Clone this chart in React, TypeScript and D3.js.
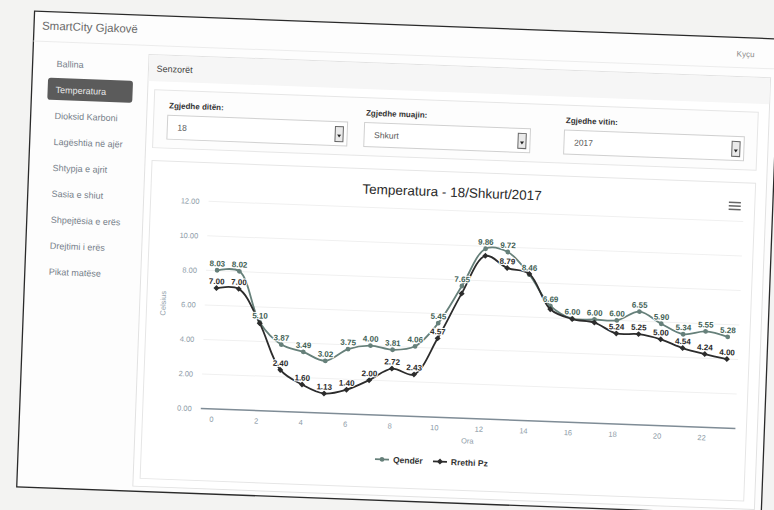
import * as d3 from 'd3';

// hours of the day (x) and temperatures for the two stations
const hours = [0, 1, 2, 3, 4, 5, 6, 7, 8, 9, 10, 11, 12, 13, 14, 15, 16, 17, 18, 19, 20, 21, 22, 23];
const qender = [8.03, 8.02, 5.10, 3.87, 3.49, 3.02, 3.75, 4.00, 3.81, 4.06, 5.45, 7.65, 9.86, 9.72, 8.46, 6.69, 6.00, 6.00, 6.00, 6.55, 5.90, 5.34, 5.55, 5.28];
const rrethiPz = [7.00, 7.00, 5.05, 2.40, 1.60, 1.13, 1.40, 2.00, 2.72, 2.43, 4.57, 7.21, 9.45, 8.79, 8.50, 6.50, 5.98, 5.82, 5.24, 5.25, 5.00, 4.54, 4.24, 4.00];
const yTicks = [0, 2, 4, 6, 8, 10, 12];
const xTicks = [0, 2, 4, 6, 8, 10, 12, 14, 16, 18, 20, 22];
const seriesNames = ['Qendër', 'Rrethi Pz'];

const menuItems = ['Ballina', 'Temperatura', 'Dioksid Karboni', 'Lagështia në ajër', 'Shtypja e ajrit',
    'Sasia e shiut', 'Shpejtësia e erës', 'Drejtimi i erës', 'Pikat matëse'];
const selects = [
    {label: 'Zgjedhe ditën:', value: '18'},
    {label: 'Zgjedhe muajin:', value: 'Shkurt'},
    {label: 'Zgjedhe vitin:', value: '2017'},
];

const UI = '"Liberation Sans", Arial, sans-serif';
const colors = ['#66807a', '#2c2c2c'];

const App = () => {
    const x = d3.scaleLinear().domain([-0.5, 23.5]).range([205, 740]);
    const y = d3.scaleLinear().domain([0, 12]).range([415.8, 208.6]);

    const line = d3.line<number>()
        .x((_, i) => x(hours[i]))
        .y(d => y(d))
        .curve(d3.curveCatmullRom.alpha(0.5));

    const series = [qender, rrethiPz];

    // data labels, lower series label hidden when it collides with the upper one (like highcharts)
    const labelBox = (v: number, i: number) => ({cx: x(hours[i]), cy: y(v) - 7, w: v.toFixed(2).length * 4.3});
    const upperBoxes = qender.map(labelBox);
    const showLabel = (s: number, v: number, i: number) => {
        if (s === 0) return true;
        const b = labelBox(v, i);
        return !upperBoxes.some(u => Math.abs(u.cx - b.cx) < (u.w + b.w) / 2 && Math.abs(u.cy - b.cy) < 8);
    };

    const boxX = [161, 358, 558];
    const boxW = [180, 166, 180];

    const marker = (s: number, cx: number, cy: number, key?: string | number) => s === 0
        ? <circle key={key} cx={cx} cy={cy} r={2.4} fill={colors[s]}/>
        : <path key={key} d={`M${cx},${cy - 3}L${cx + 3},${cy}L${cx},${cy + 3}L${cx - 3},${cy}Z`} fill={colors[s]}/>;

    return (
        <svg width={774} height={510} style={{position: 'absolute', left: 0, top: 0, background: '#f3f3f2'}}>
            <g transform="rotate(2.15 400 300)">
                {/* page frame */}
                <rect x={24} y={25} width={745} height={476} fill="#fdfdfd" stroke="#2a2a2a" strokeWidth={1.3}/>
                <text x={32} y={43} fontFamily={UI} fontSize={11.5} fill="#6a6a6a">SmartCity Gjakovë</text>
                <text x={745} y={44} fontFamily={UI} fontSize={8} fill="#8a8a8a" textAnchor="end">Kyçu</text>
                <line x1={24} x2={769} y1={55} y2={55} stroke="#ececec"/>

                {/* sidebar */}
                <rect x={40} y={91} width={85} height={22} rx={3} fill="#5b5b5b"/>
                {menuItems.map((m, i) => (
                    <text key={m} x={48} y={80 + 26 * i} fontFamily={UI} fontSize={9}
                          fill={i === 1 ? '#e8e8e8' : '#76808a'}>{m}</text>
                ))}

                {/* sensors panel */}
                <rect x={140} y={64} width={622} height={432} fill="#fff" stroke="#e2e2e2"/>
                <rect x={140.5} y={64.5} width={621} height={26} fill="#f6f6f6"/>
                <text x={148} y={81} fontFamily={UI} fontSize={9} fill="#444">Senzorët</text>
                <rect x={147} y={99} width={604} height={58} fill="#fdfdfd" stroke="#e6e6e6"/>
                {selects.map((s, i) => (
                    <g key={s.label}>
                        <text x={boxX[i] + 1} y={117} fontFamily={UI} fontSize={8} fontWeight="bold" fill="#333">{s.label}</text>
                        <rect x={boxX[i]} y={124} width={boxW[i]} height={24} fill="#fff" stroke="#d0d0d0"/>
                        <text x={boxX[i] + 10} y={139} fontFamily={UI} fontSize={8.5} fill="#555">{s.value}</text>
                        <rect x={boxX[i] + boxW[i] - 12} y={129} width={8} height={15} fill="#eaeaea" stroke="#666"/>
                        <path d={`M${boxX[i] + boxW[i] - 10},${137}h4l-2,3z`} fill="#222"/>
                    </g>
                ))}

                {/* chart container */}
                <rect x={147} y={170} width={604} height={318} fill="#fff" stroke="#e6e6e6"/>
                <text x={448} y={195} textAnchor="middle" fontFamily={UI} fontSize={13.5} fill="#2a2a2a">
                    Temperatura - 18/Shkurt/2017
                </text>
                {[0, 1, 2].map(k => (
                    <line key={k} x1={725} x2={737} y1={190 + k * 3.5} y2={190 + k * 3.5} stroke="#666" strokeWidth={1.6}/>
                ))}

                {/* grid + y axis */}
                {yTicks.map(t => (
                    <g key={t}>
                        {t > 0 && <line x1={x.range()[0]} x2={x.range()[1]} y1={y(t)} y2={y(t)} stroke="#f0f0f0"/>}
                        <text x={196} y={y(t) + 3} textAnchor="end" fontFamily={UI} fontSize={7.5} fill="#8e9ca8">
                            {t.toFixed(2)}
                        </text>
                    </g>
                ))}
                <text transform={`translate(166,${(y(0) + y(12)) / 2}) rotate(-90)`} textAnchor="middle"
                      fontFamily={UI} fontSize={7.5} fill="#8e9ca8">Celsius</text>

                {/* x axis */}
                <line x1={x.range()[0]} x2={x.range()[1]} y1={y(0)} y2={y(0)} stroke="#7f8c96" strokeWidth={1.5}/>
                {xTicks.map(t => (
                    <text key={t} x={x(t)} y={y(0) + 13} textAnchor="middle" fontFamily={UI} fontSize={7.5} fill="#8e9ca8">{t}</text>
                ))}
                <text x={(x.range()[0] + x.range()[1]) / 2} y={y(0) + 25} textAnchor="middle" fontFamily={UI}
                      fontSize={7.5} fill="#8e9ca8">Ora</text>

                {/* series */}
                {series.map((data, s) => (
                    <g key={s}>
                        <path d={line(data) || ''} fill="none" stroke={colors[s]} strokeWidth={1.8}/>
                        {data.map((v, i) => marker(s, x(hours[i]), y(v), i))}
                    </g>
                ))}
                {series.map((data, s) => (
                    <g key={'l' + s}>
                        {data.map((v, i) => showLabel(s, v, i) && (
                            <text key={i} x={x(hours[i])} y={y(v) - 4} textAnchor="middle" fontFamily={UI}
                                  fontSize={8} fontWeight="bold" fill={s === 0 ? '#3f5f55' : '#2a2a2a'}
                                  stroke="#fff" strokeWidth={2} paintOrder="stroke">{v.toFixed(2)}</text>
                        ))}
                    </g>
                ))}

                {/* legend */}
                {seriesNames.map((n, s) => {
                    const lx = s === 0 ? 388 : 446;
                    return (
                        <g key={n}>
                            <line x1={lx - 7} x2={lx + 7} y1={460} y2={460} stroke={colors[s]} strokeWidth={1.8}/>
                            {marker(s, lx, 460)}
                            <text x={lx + 11} y={463} fontFamily={UI} fontSize={8.5} fontWeight="bold" fill="#333">{n}</text>
                        </g>
                    );
                })}
            </g>
        </svg>
    );
};

export default App;
